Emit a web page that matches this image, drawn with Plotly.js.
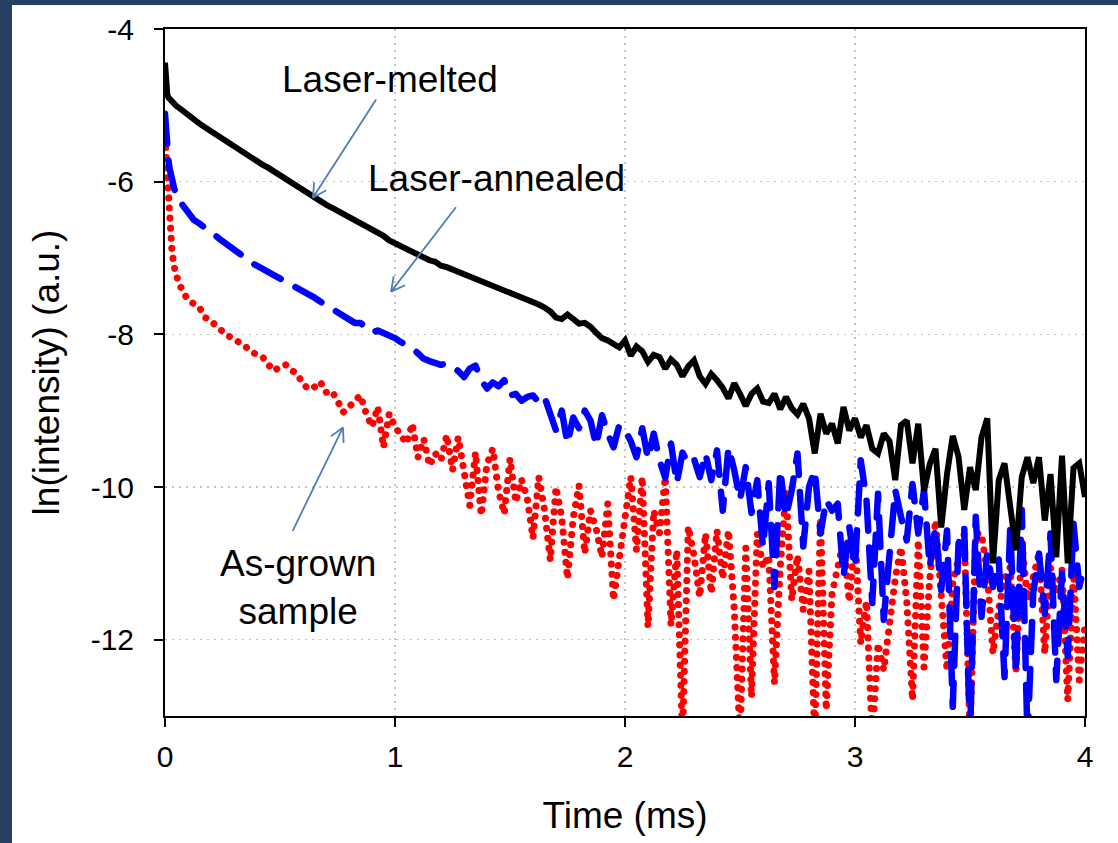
<!DOCTYPE html>
<html>
<head>
<meta charset="utf-8">
<script src="https://cdn.plot.ly/plotly-3.0.1.min.js"></script>
<style>
  html, body { margin: 0; padding: 0; background: #243f60; }
  #wrap { position: absolute; left: 12px; top: 5px; width: 1106px; height: 838px; background: #ffffff; }
  #chart { width: 1106px; height: 838px; }
</style>
</head>
<body>
<div id="wrap"><div id="chart"></div></div>
<script>
// Time axis (ms)
const time = [
  0, 0.003, 0.006, 0.01, 0.015, 0.02, 0.03, 0.04, 0.05, 0.06, 0.08, 0.1,
  0.125, 0.15, 0.175, 0.2, 0.225, 0.25, 0.275, 0.3, 0.325, 0.35,
  0.375, 0.4, 0.425, 0.45, 0.475, 0.5, 0.525, 0.55, 0.575, 0.6,
  0.625, 0.65, 0.675, 0.7, 0.725, 0.75, 0.775, 0.8, 0.825, 0.85,
  0.875, 0.9, 0.925, 0.95, 0.975, 1.0, 1.025, 1.05, 1.075, 1.1,
  1.125, 1.15, 1.175, 1.2, 1.225, 1.25, 1.275, 1.3, 1.325, 1.35,
  1.375, 1.4, 1.425, 1.45, 1.475, 1.5, 1.525, 1.55, 1.575, 1.6,
  1.625, 1.65, 1.675, 1.7, 1.725, 1.75, 1.775, 1.8, 1.825, 1.85,
  1.875, 1.9, 1.925, 1.95, 1.975, 2.0, 2.025, 2.05, 2.075, 2.1,
  2.125, 2.15, 2.175, 2.2, 2.225, 2.25, 2.275, 2.3, 2.325, 2.35,
  2.375, 2.4, 2.425, 2.45, 2.475, 2.5, 2.525, 2.55, 2.575, 2.6,
  2.625, 2.65, 2.675, 2.7, 2.725, 2.75, 2.775, 2.8, 2.825, 2.85,
  2.875, 2.9, 2.925, 2.95, 2.975, 3.0, 3.025, 3.05, 3.075, 3.1,
  3.125, 3.15, 3.175, 3.2, 3.225, 3.25, 3.275, 3.3, 3.325, 3.35,
  3.375, 3.4, 3.425, 3.45, 3.475, 3.5, 3.525, 3.55, 3.575, 3.6,
  3.625, 3.65, 3.675, 3.7, 3.725, 3.75, 3.775, 3.8, 3.825, 3.85,
  3.875, 3.9, 3.925, 3.95, 3.975, 4.0
];

// ln(intensity) – Laser-melted
const laserMelted = [
  -4.44, -4.62, -4.78, -4.86, -4.90, -4.92, -4.95, -4.98, -5.01, -5.03, -5.08, -5.12,
  -5.18, -5.24, -5.29, -5.34, -5.39, -5.44, -5.49, -5.55, -5.59, -5.63,
  -5.68, -5.73, -5.78, -5.82, -5.87, -5.91, -5.96, -6.00, -6.05, -6.10,
  -6.16, -6.21, -6.25, -6.30, -6.34, -6.38, -6.43, -6.47, -6.51, -6.55,
  -6.59, -6.63, -6.67, -6.71, -6.77, -6.81, -6.84, -6.88, -6.91, -6.96,
  -6.99, -7.03, -7.05, -7.10, -7.12, -7.15, -7.17, -7.21, -7.24, -7.26,
  -7.30, -7.32, -7.36, -7.39, -7.41, -7.45, -7.48, -7.52, -7.54, -7.58,
  -7.61, -7.65, -7.70, -7.78, -7.80, -7.74, -7.80, -7.86, -7.85, -7.90,
  -7.98, -8.05, -8.08, -8.13, -8.17, -8.08, -8.28, -8.16, -8.22, -8.36,
  -8.27, -8.30, -8.45, -8.33, -8.40, -8.55, -8.42, -8.34, -8.55, -8.65,
  -8.52, -8.60, -8.70, -8.84, -8.64, -8.78, -8.94, -8.78, -8.71, -8.88,
  -8.90, -8.78, -8.98, -8.82, -8.97, -9.05, -8.91, -9.10, -9.56, -9.04,
  -9.30, -9.17, -9.43, -8.95, -9.26, -9.10, -9.35, -9.19, -9.50, -9.56,
  -9.30, -9.40, -9.91, -9.19, -9.13, -9.69, -9.17, -10.05, -9.70, -9.50,
  -10.53, -9.83, -9.33, -9.60, -10.30, -9.74, -10.04, -9.35, -9.10, -11.00,
  -9.91, -9.69, -10.26, -10.83, -9.87, -9.61, -9.95, -9.61, -10.44, -9.83,
  -10.92, -9.59, -11.00, -9.75, -9.69, -10.13
];

// ln(intensity) – Laser-annealed
const laserAnnealed = [
  -5.11, -5.30, -5.45, -5.60, -5.72, -5.83, -5.99, -6.09, -6.17, -6.24, -6.32, -6.40,
  -6.50, -6.55, -6.60, -6.66, -6.72, -6.78, -6.83, -6.89, -6.94, -7.00,
  -7.06, -7.10, -7.15, -7.18, -7.22, -7.26, -7.32, -7.35, -7.39, -7.42,
  -7.46, -7.52, -7.57, -7.62, -7.66, -7.72, -7.75, -7.82, -7.85, -7.85,
  -7.93, -7.98, -7.95, -7.98, -8.02, -8.05, -8.10, -8.14, -8.18, -8.25,
  -8.32, -8.35, -8.37, -8.40, -8.38, -8.43, -8.48, -8.56, -8.45, -8.41,
  -8.60, -8.71, -8.63, -8.68, -8.60, -8.80, -8.78, -8.87, -8.82, -8.80,
  -8.89, -8.82, -9.02, -9.26, -9.00, -9.43, -9.09, -9.23, -9.00, -9.13,
  -9.46, -9.06, -9.30, -9.48, -9.19, -9.25, -9.40, -9.61, -9.23, -9.63,
  -9.30, -9.65, -9.88, -9.43, -9.95, -9.55, -9.69, -9.63, -9.87, -9.56,
  -9.91, -9.52, -10.31, -9.48, -9.78, -10.17, -9.74, -10.34, -9.91, -10.79,
  -9.95, -11.31, -9.78, -10.39, -10.04, -9.56, -10.78, -10.00, -9.78, -10.61,
  -10.17, -10.31, -10.22, -11.18, -10.52, -11.05, -9.65, -10.17, -11.52, -10.09,
  -11.74, -10.83, -10.04, -10.39, -10.70, -9.96, -10.61, -10.04, -11.05, -10.53,
  -11.35, -10.57, -12.88, -10.74, -10.53, -13.30, -10.39, -11.70, -10.87, -11.31,
  -10.95, -12.49, -10.53, -12.44, -10.30, -13.30, -11.39, -10.87, -11.66, -10.61,
  -12.53, -11.13, -12.22, -10.48, -11.31, -11.00
];

// ln(intensity) – As-grown sample
const asGrown = [
  -5.42, -5.58, -5.73, -5.95, -6.30, -6.60, -6.90, -7.12, -7.25, -7.33, -7.45, -7.55,
  -7.60, -7.65, -7.78, -7.82, -7.90, -7.97, -8.02, -8.06, -8.10, -8.16,
  -8.23, -8.26, -8.30, -8.40, -8.48, -8.42, -8.40, -8.47, -8.52, -8.65,
  -8.72, -8.69, -8.62, -8.76, -8.74, -8.87, -9.02, -8.95, -8.87, -8.80,
  -9.04, -9.21, -8.95, -9.48, -9.04, -9.21, -9.32, -9.43, -9.17, -9.61,
  -9.37, -9.72, -9.56, -9.65, -9.32, -9.78, -9.35, -9.85, -10.24, -9.55,
  -10.37, -9.70, -9.50, -10.05, -10.35, -9.63, -10.20, -9.90, -10.15, -10.67,
  -9.87, -10.30, -10.96, -10.00, -10.40, -11.20, -10.40, -9.98, -10.87, -10.31,
  -10.55, -10.92, -10.22, -11.48, -10.96, -10.40, -9.87, -10.83, -9.87, -11.83,
  -10.31, -10.60, -9.87, -11.81, -10.83, -13.30, -10.52, -10.90, -11.44, -10.61,
  -11.39, -10.57, -11.20, -10.57, -11.60, -13.30, -10.80, -12.75, -10.61, -11.05,
  -10.90, -12.57, -11.05, -10.04, -11.48, -10.90, -11.61, -11.10, -13.30, -10.40,
  -12.92, -11.40, -11.05, -10.70, -11.50, -10.61, -12.05, -11.50, -13.30, -12.05,
  -12.40, -11.70, -11.20, -10.79, -11.50, -12.79, -10.70, -12.36, -11.20, -10.44,
  -11.31, -12.40, -11.26, -10.90, -10.61, -13.30, -10.61, -10.61, -11.13, -12.18,
  -11.60, -11.20, -11.05, -12.44, -10.70, -11.48, -11.20, -10.87, -12.18, -11.05,
  -11.40, -11.09, -12.79, -11.13, -12.53, -11.80
];

// Axis ticks
const xTicks = [0, 1, 2, 3, 4];
const yTicks = [-4, -6, -8, -10, -12];

// Labels and their arrows (data coordinates)
const labelTexts = ['Laser-melted', 'Laser-annealed', 'As-grown<br>sample'];
const labelPos = [[0.978, -4.66], [1.443, -5.962], [0.578, -11.31]];
const arrowTail = [[0.922, -4.903], [1.270, -6.316], [0.552, -10.593]];
const arrowHead = [[0.643, -6.211], [0.983, -7.441], [0.774, -9.220]];

const FONT = 'Liberation Sans, Arial, sans-serif';
const W = 1106, H = 838;
const M = { l: 153, r: 33, t: 24, b: 127 };
const xRange = [0, 4], yRange = [-13, -4];

const traces = [
  { x: time, y: asGrown, mode: 'lines', name: 'As-grown sample',
    line: { color: '#ff0000', width: 7, dash: 'dot' } },
  { x: time, y: laserAnnealed, mode: 'lines', name: 'Laser-annealed',
    line: { color: '#0000ff', width: 6.5, dash: 'dash' } },
  { x: time, y: laserMelted, mode: 'lines', name: 'Laser-melted',
    line: { color: '#000000', width: 6 } }
];

// pixel scale of the plot area (used only to orient the arrowhead legs)
const pxPerX = (W - M.l - M.r) / (xRange[1] - xRange[0]);
const pxPerY = (H - M.t - M.b) / (yRange[1] - yRange[0]);

const ARROW = '#4a7ebb';
const annotations = [];
for (let i = 0; i < labelTexts.length; i++) {
  // shaft
  annotations.push({
    x: arrowHead[i][0], y: arrowHead[i][1], xref: 'x', yref: 'y',
    ax: arrowTail[i][0], ay: arrowTail[i][1], axref: 'x', ayref: 'y',
    text: '', showarrow: true, arrowhead: 0, arrowwidth: 1.8,
    arrowcolor: ARROW, standoff: 0, startstandoff: 0
  });
  // open V head: two short legs
  const dx = (arrowTail[i][0] - arrowHead[i][0]) * pxPerX;
  const dy = -(arrowTail[i][1] - arrowHead[i][1]) * pxPerY;
  const len = Math.hypot(dx, dy);
  const ux = dx / len, uy = dy / len;
  [28, -28].forEach(function (deg) {
    const a = deg * Math.PI / 180;
    const lx = (ux * Math.cos(a) - uy * Math.sin(a)) * 17;
    const ly = (ux * Math.sin(a) + uy * Math.cos(a)) * 17;
    annotations.push({
      x: arrowHead[i][0], y: arrowHead[i][1], xref: 'x', yref: 'y',
      ax: lx, ay: ly, text: '', showarrow: true, arrowhead: 0,
      arrowwidth: 1.8, arrowcolor: ARROW, standoff: 0, startstandoff: 0
    });
  });
  // label
  annotations.push({
    x: labelPos[i][0], y: labelPos[i][1], xref: 'x', yref: 'y',
    text: labelTexts[i], showarrow: false,
    font: { family: FONT, size: 37, color: '#000000' },
    xanchor: 'center', yanchor: 'middle', align: 'center'
  });
}

const layout = {
  width: W, height: H,
  margin: M,
  paper_bgcolor: '#ffffff', plot_bgcolor: '#ffffff',
  showlegend: false,
  font: { family: FONT, color: '#000000' },
  xaxis: {
    range: xRange, tickvals: xTicks, ticktext: xTicks.map(String),
    showline: true, linecolor: '#000000', linewidth: 2, mirror: true,
    ticks: 'outside', ticklen: 9, tickwidth: 2, tickcolor: '#000000',
    showgrid: true, gridcolor: '#c4c4c4', gridwidth: 1.5, griddash: '2px,5px',
    zeroline: false, tickfont: { family: FONT, size: 30, color: '#000000' },
    ticklabelstandoff: 4,
    title: { text: 'Time (ms)', font: { family: FONT, size: 37, color: '#000000' }, standoff: 30 }
  },
  yaxis: {
    range: yRange, tickvals: yTicks, ticktext: yTicks.map(String),
    showline: true, linecolor: '#000000', linewidth: 2, mirror: true,
    ticks: 'outside', ticklen: 9, tickwidth: 2, tickcolor: '#000000',
    showgrid: true, gridcolor: '#c4c4c4', gridwidth: 1.5, griddash: '2px,5px',
    zeroline: false, tickfont: { family: FONT, size: 30, color: '#000000' },
    ticklabelstandoff: 14,
    title: { text: 'ln(intensity) (a.u.)', font: { family: FONT, size: 37, color: '#000000' }, standoff: 20 }
  },
  annotations: annotations
};

Plotly.newPlot('chart', traces, layout, { staticPlot: true, displayModeBar: false }).then(function (gd) {
  // round dots for the dotted series, rounded dashes for the dashed series
  const tr = gd.querySelectorAll('.scatterlayer .trace');
  const styles = [['0.1px,10px'], ['30px,17px']];
  for (let k = 0; k < 2; k++) {
    if (!tr[k]) continue;
    tr[k].querySelectorAll('path.js-line').forEach(function (p) {
      p.style.strokeLinecap = 'round';
      p.style.strokeLinejoin = 'round';
      p.style.strokeDasharray = styles[k][0];
    });
  }
});
</script>
</body>
</html>
